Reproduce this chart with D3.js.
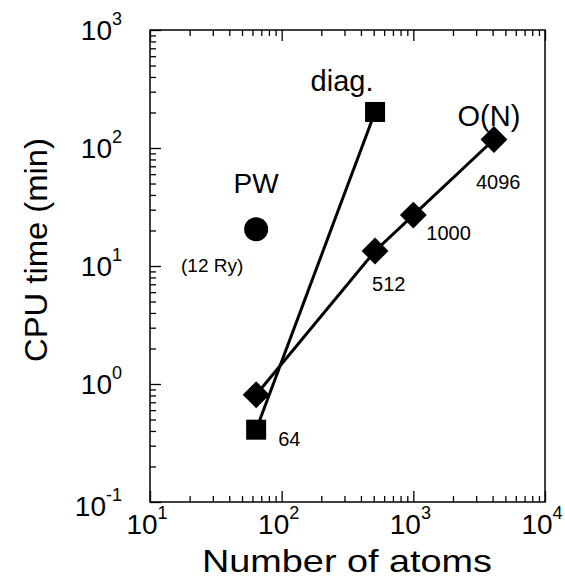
<!DOCTYPE html>
<html>
<head>
<meta charset="utf-8">
<script src="https://d3js.org/d3.v7.min.js"></script>
<style>
    html, body {
        margin: 0;
        padding: 0;
        background: #fff;
    }
    svg text {
        font-family: "Liberation Sans", Arial, Helvetica, sans-serif;
        fill: #000;
    }
</style>
</head>
<body>
<div id="chart"></div>
<script>
// values
var atomsON = [64, 512, 1000, 4096];
var cpuON = [0.81, 13.4, 27, 118];
var onLabels = ["64", "512", "1000", "4096"];

var atomsDiag = [64, 512];
var cpuDiag = [0.41, 202];

var atomsPW = [64];
var cpuPW = [20.5];

var xMajor = [10, 100, 1000, 10000];
var xMajorExp = ["1", "2", "3", "4"];
var yMajor = [0.1, 1, 10, 100, 1000];
var yMajorExp = ["-1", "0", "1", "2", "3"];

draw();

function draw() {
    var W = 565, H = 585;
    var mLeft = 150, mRight = 545, mTop = 30, mBottom = 502;

    var svg = d3.select("#chart").append("svg")
        .attr("width", W)
        .attr("height", H);

    var x = d3.scaleLog().domain([10, 10000]).range([mLeft, mRight]);
    var y = d3.scaleLog().domain([0.1, 1000]).range([mBottom, mTop]);

    function minors(majors) {
        var out = [];
        for (var i = 0; i < majors.length - 1; i++) {
            for (var k = 2; k <= 9; k++) out.push(majors[i] * k);
        }
        return out;
    }

    // frame
    svg.append("rect")
        .attr("x", mLeft).attr("y", mTop)
        .attr("width", mRight - mLeft).attr("height", mBottom - mTop)
        .attr("fill", "none").attr("stroke", "#000").attr("stroke-width", 1.5);

    function styleAxis(g) {
        g.select(".domain").remove();
        g.selectAll(".tick line").attr("stroke", "#000").attr("stroke-width", 1.3);
        g.selectAll(".tick text").remove();
    }

    // left axis, ticks pointing in
    svg.append("g").attr("transform", "translate(" + mLeft + ",0)")
        .call(d3.axisLeft(y).tickValues(yMajor).tickSize(-11).tickFormat(""))
        .call(styleAxis);
    svg.append("g").attr("transform", "translate(" + mLeft + ",0)")
        .call(d3.axisLeft(y).tickValues(minors(yMajor)).tickSize(-6).tickFormat(""))
        .call(styleAxis);

    // bottom axis
    svg.append("g").attr("transform", "translate(0," + mBottom + ")")
        .call(d3.axisBottom(x).tickValues(xMajor).tickSize(-11).tickFormat(""))
        .call(styleAxis);
    svg.append("g").attr("transform", "translate(0," + mBottom + ")")
        .call(d3.axisBottom(x).tickValues(minors(xMajor)).tickSize(-6).tickFormat(""))
        .call(styleAxis);

    // top axis
    svg.append("g").attr("transform", "translate(0," + mTop + ")")
        .call(d3.axisTop(x).tickValues(xMajor).tickSize(-11).tickFormat(""))
        .call(styleAxis);
    svg.append("g").attr("transform", "translate(0," + mTop + ")")
        .call(d3.axisTop(x).tickValues(minors(xMajor)).tickSize(-6).tickFormat(""))
        .call(styleAxis);

    // tick labels with superscripts
    var yl = svg.append("g").selectAll("text")
        .data(yMajor)
        .enter().append("text")
        .attr("x", 122)
        .attr("y", function(d) { return y(d) + (d === 0.1 ? 14 : 10); })
        .attr("text-anchor", "end")
        .style("font-size", "28px");
    yl.append("tspan").text("10");
    yl.append("tspan")
        .attr("dy", -15)
        .style("font-size", "18px")
        .text(function(d, i) { return yMajorExp[i]; });

    var xl = svg.append("g").selectAll("text")
        .data(xMajor)
        .enter().append("text")
        .attr("x", function(d) { return x(d) - 3; })
        .attr("y", 534)
        .attr("text-anchor", "middle")
        .style("font-size", "28px");
    xl.append("tspan").text("10");
    xl.append("tspan")
        .attr("dy", -15)
        .style("font-size", "18px")
        .text(function(d, i) { return xMajorExp[i]; });

    // axis titles
    svg.append("text")
        .attr("x", 347).attr("y", 572)
        .attr("text-anchor", "middle")
        .attr("textLength", 290)
        .attr("lengthAdjust", "spacingAndGlyphs")
        .style("font-size", "32px")
        .text("Number of atoms");

    svg.append("text")
        .attr("transform", "translate(47,250) rotate(-90)")
        .attr("text-anchor", "middle")
        .attr("textLength", 224)
        .attr("lengthAdjust", "spacingAndGlyphs")
        .style("font-size", "32px")
        .text("CPU time (min)");

    // lines
    var line = d3.line()
        .x(function(d) { return x(d[0]); })
        .y(function(d) { return y(d[1]); });

    svg.append("path")
        .datum(d3.zip(atomsDiag, cpuDiag))
        .attr("d", line)
        .attr("fill", "none").attr("stroke", "#000").attr("stroke-width", 3);

    svg.append("path")
        .datum(d3.zip(atomsON, cpuON))
        .attr("d", line)
        .attr("fill", "none").attr("stroke", "#000").attr("stroke-width", 3);

    // markers
    svg.append("g").selectAll("rect")
        .data(d3.zip(atomsDiag, cpuDiag))
        .enter().append("rect")
        .attr("x", function(d) { return x(d[0]) - 10; })
        .attr("y", function(d) { return y(d[1]) - 10; })
        .attr("width", 20).attr("height", 20)
        .attr("fill", "#000");

    var diamond = d3.symbol().type(d3.symbolSquare).size(19 * 19);
    svg.append("g").selectAll("path")
        .data(d3.zip(atomsON, cpuON))
        .enter().append("path")
        .attr("d", diamond)
        .attr("transform", function(d) {
            return "translate(" + x(d[0]) + "," + y(d[1]) + ") rotate(45)";
        })
        .attr("fill", "#000");

    svg.append("g").selectAll("circle")
        .data(d3.zip(atomsPW, cpuPW))
        .enter().append("circle")
        .attr("cx", function(d) { return x(d[0]); })
        .attr("cy", function(d) { return y(d[1]); })
        .attr("r", 12)
        .attr("fill", "#000");

    // size labels next to the points (the 64 label sits by the diag square)
    var labelOff = [[22, 16], [-3, 40], [13, 25], [-18, 49]];
    svg.append("g").selectAll("text")
        .data(onLabels)
        .enter().append("text")
        .attr("x", function(d, i) { return x(atomsON[i]) + labelOff[i][0]; })
        .attr("y", function(d, i) {
            var yy = i === 0 ? y(cpuDiag[0]) : y(cpuON[i]);
            return yy + labelOff[i][1];
        })
        .style("font-size", "20px")
        .text(function(d) { return d; });

    // series names
    svg.append("text")
        .attr("x", x(atomsON[3]) - 5).attr("y", y(cpuON[3]) - 14)
        .attr("text-anchor", "middle")
        .style("font-size", "29px")
        .text("O(N)");

    svg.append("text")
        .attr("x", x(atomsDiag[1]) - 33).attr("y", y(cpuDiag[1]) - 21)
        .attr("text-anchor", "middle")
        .style("font-size", "29px")
        .text("diag.");

    svg.append("text")
        .attr("x", x(atomsPW[0])).attr("y", y(cpuPW[0]) - 36)
        .attr("text-anchor", "middle")
        .style("font-size", "28px")
        .text("PW");

    svg.append("text")
        .attr("x", x(atomsPW[0]) - 44).attr("y", y(cpuPW[0]) + 43)
        .attr("text-anchor", "middle")
        .style("font-size", "19px")
        .text("(12 Ry)");
}
</script>
</body>
</html>
